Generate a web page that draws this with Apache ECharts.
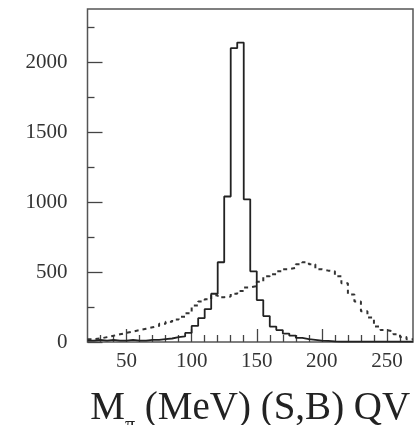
<!DOCTYPE html>
<html><head><meta charset="utf-8">
<script src="https://cdn.jsdelivr.net/npm/echarts@6/dist/echarts.min.js"></script>
<style>html,body{margin:0;padding:0;background:#fff}#c{width:418px;height:425px}</style>
</head><body><div id="c"></div>
<script>
// Bin lower edges (MeV), 5 MeV wide; last upper edge 270
const binLow = [20,25,30,35,40,45,50,55,60,65,70,75,80,85,90,95,100,105,110,115,120,125,130,135,140,145,150,155,160,165,170,175,180,185,190,195,200,205,210,215,220,225,230,235,240,245,250,255,260,265];
const binUpperEdge = 270;
// Signal (solid histogram)
const signal = [10,15,10,15,10,10,15,10,10,15,15,20,25,35,40,65,115,170,235,345,570,1040,2100,2140,1020,505,300,185,110,85,60,45,30,20,15,10,8,5,3,3,3,3,3,3,3,3,3,3,3,3];
// Background (dotted histogram)
const background = [20,25,35,45,55,65,75,85,95,105,115,130,145,160,180,205,260,290,305,335,320,325,345,365,390,400,430,470,485,505,520,530,555,570,555,520,510,505,470,420,340,290,220,175,110,85,75,55,35,20];
// Axis ticks
const xMajorTicks = [50,100,150,200,250];
const xMinorTicks = [30,40,60,70,80,90,110,120,130,140,160,170,180,190,210,220,230,240,260];
const yMajorTicks = [0,500,1000,1500,2000];
const yMinorTicks = [250,750,1250,1750,2250];

function stepData(vals){
  const d = binLow.map((x,i)=>[x, vals[i]]);
  d.push([binUpperEdge, vals[vals.length-1]]);
  return d;
}
const FONT = 'Liberation Serif';
const plain = v => String(v);
const chart = echarts.init(document.getElementById('c'), null, {renderer:'canvas'});
chart.setOption({
  animation:false,
  backgroundColor:'#fff',
  grid:{left:87.5, right:5, top:9, bottom:83, show:true, borderColor:'#555', borderWidth:1.5, backgroundColor:'transparent', containLabel:false, outerBoundsMode:'none'},
  xAxis:[
    {type:'value', min:20, max:270, position:'bottom',
     axisLine:{show:false}, splitLine:{show:false},
     axisTick:{show:true, inside:true, length:13, customValues:xMajorTicks, lineStyle:{color:'#444', width:1.3}},
     axisLabel:{customValues:xMajorTicks, formatter:plain, fontFamily:FONT, fontSize:21, color:'#333', margin:9},
     name:'M{sub|π} (MeV) (S,B) QV', nameLocation:'middle', nameGap:40,
     nameTextStyle:{fontFamily:FONT, fontSize:39, color:'#222',
       rich:{sub:{fontFamily:FONT, fontSize:20, color:'#222', padding:[34,0,0,0]}}}
    },
    {type:'value', min:20, max:270, position:'bottom',
     axisLine:{show:false}, splitLine:{show:false}, axisLabel:{show:false},
     axisTick:{show:true, inside:true, length:7, customValues:xMinorTicks, lineStyle:{color:'#444', width:1.3}}
    }
  ],
  yAxis:[
    {type:'value', min:0, max:2380, position:'left',
     axisLine:{show:false}, splitLine:{show:false},
     axisTick:{show:true, inside:true, length:15, customValues:yMajorTicks, lineStyle:{color:'#444', width:1.3}},
     axisLabel:{customValues:yMajorTicks, formatter:plain, fontFamily:FONT, fontSize:21, color:'#333', margin:20}
    },
    {type:'value', min:0, max:2380, position:'left',
     axisLine:{show:false}, splitLine:{show:false}, axisLabel:{show:false},
     axisTick:{show:true, inside:true, length:7, customValues:yMinorTicks, lineStyle:{color:'#444', width:1.3}}
    }
  ],
  series:[
    {type:'line', name:'B', xAxisIndex:0, yAxisIndex:0, step:'end', showSymbol:false, symbol:'none',
     data:stepData(background), lineStyle:{color:'#333', width:2, type:[4,4]}},
    {type:'line', name:'S', xAxisIndex:0, yAxisIndex:0, step:'end', showSymbol:false, symbol:'none',
     data:stepData(signal), lineStyle:{color:'#222', width:1.8}}
  ]
});
</script></body></html>
